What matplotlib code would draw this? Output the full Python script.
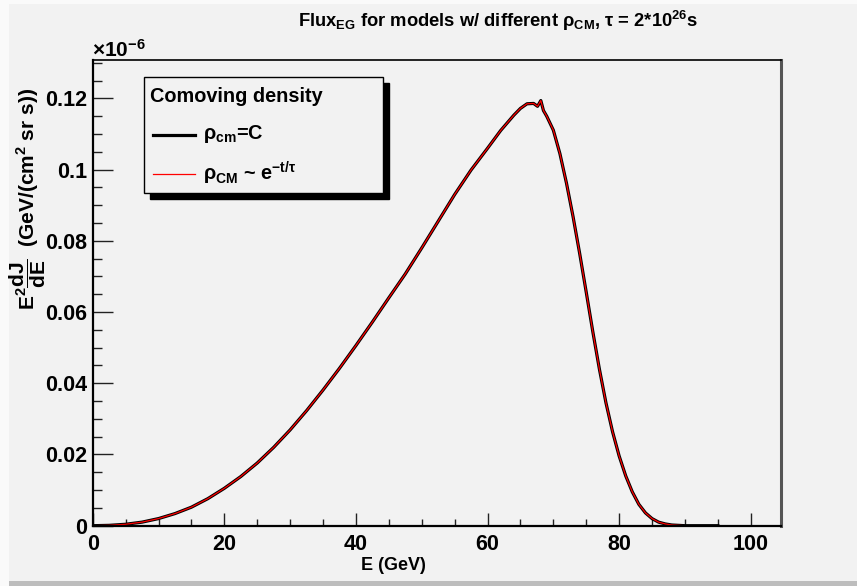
import matplotlib
matplotlib.use("Agg")
import matplotlib.pyplot as plt
from matplotlib.patches import Rectangle
from matplotlib.lines import Line2D
from matplotlib.ticker import MultipleLocator, FixedLocator

# Fontes no estilo ROOT (Helvetica bold)
plt.rcParams['font.family'] = ['Liberation Sans', 'DejaVu Sans']
plt.rcParams['font.weight'] = 'bold'
plt.rcParams['mathtext.fontset'] = 'custom'
plt.rcParams['mathtext.rm'] = 'Liberation Sans:bold'
plt.rcParams['mathtext.bf'] = 'Liberation Sans:bold'
plt.rcParams['mathtext.it'] = 'Liberation Sans:bold'
plt.rcParams['mathtext.default'] = 'rm'

# Dados (E em GeV, fluxo em unidades de 1e-6)
energy = [0, 2.5, 5, 7.5, 10, 12.5, 15, 17.5, 20, 22.5, 25, 27.5, 30, 32.5,
          35, 37.5, 40, 42.5, 45, 47.5, 50, 52.5, 55, 57.5, 60, 62, 64, 65,
          66, 67, 67.6, 68.1, 68.5, 69, 70, 71, 72, 73, 74, 75, 76, 77, 78,
          79, 80, 81, 82, 83, 84, 85, 86, 87, 88, 89, 90, 92.5, 95]
flux_const = [0.0, 0.0001, 0.0004, 0.0010, 0.0020, 0.0034, 0.0052, 0.0076,
              0.0105, 0.0138, 0.0176, 0.0220, 0.0269, 0.0323, 0.0381, 0.0442,
              0.0506, 0.0572, 0.0640, 0.0707, 0.0780, 0.0855, 0.0930, 0.0999,
              0.1060, 0.1110, 0.1153, 0.1172, 0.1185, 0.1186, 0.1178, 0.1194,
              0.1166, 0.1150, 0.1111, 0.1045, 0.0962, 0.0868, 0.0765, 0.0656,
              0.0545, 0.0440, 0.0345, 0.0264, 0.0196, 0.0140, 0.0095, 0.0060,
              0.0036, 0.0020, 0.0010, 0.0005, 0.0002, 0.0001, 0.0, 0.0, 0.0]
flux_exp = [0.0, 0.0001, 0.0004, 0.0010, 0.0020, 0.0034, 0.0052, 0.0076,
            0.0105, 0.0138, 0.0176, 0.0220, 0.0269, 0.0323, 0.0381, 0.0442,
            0.0506, 0.0572, 0.0640, 0.0707, 0.0780, 0.0855, 0.0930, 0.0999,
            0.1060, 0.1110, 0.1153, 0.1172, 0.1185, 0.1186, 0.1178, 0.1194,
            0.1166, 0.1150, 0.1111, 0.1045, 0.0962, 0.0868, 0.0765, 0.0656,
            0.0545, 0.0440, 0.0345, 0.0264, 0.0196, 0.0140, 0.0095, 0.0060,
            0.0036, 0.0020, 0.0010, 0.0005, 0.0002, 0.0001, 0.0, 0.0, 0.0]
yticks = [0, 0.02, 0.04, 0.06, 0.08, 0.1, 0.12]
ytick_labels = ["0", "0.02", "0.04", "0.06", "0.08", "0.1", "0.12"]
xticks = [0, 20, 40, 60, 80, 100]

bg = '#f2f2f2'
W, H = 857, 586
fig = plt.figure(figsize=(W / 100, H / 100), dpi=100, facecolor=bg)

# Bordas do canvas (efeito de relevo)
fig.patches.append(Rectangle((0, 0), 1, 5 / H, transform=fig.transFigure,
                             facecolor='#bdbdbd', edgecolor='none'))
fig.patches.append(Rectangle((0, 0), 9 / W, 1, transform=fig.transFigure,
                             facecolor='#fafafa', edgecolor='none'))
fig.patches.append(Rectangle((0, 1 - 4 / H), 1, 4 / H, transform=fig.transFigure,
                             facecolor='#fafafa', edgecolor='none'))

# Eixos principais
left, right, top, bottom = 92.7, 781, 60, 525.7
ax = fig.add_axes([left / W, (H - bottom) / H, (right - left) / W, (bottom - top) / H])
ax.set_facecolor(bg)

ax.plot(energy, flux_const, color='black', linewidth=2.3)
ax.plot(energy, flux_exp, color='red', linewidth=0.9)

ax.set_xlim(0, 104.6)
ax.set_ylim(0, 0.1308)

ax.xaxis.set_major_locator(FixedLocator(xticks))
ax.xaxis.set_minor_locator(MultipleLocator(5))
ax.yaxis.set_major_locator(FixedLocator(yticks))
ax.yaxis.set_minor_locator(MultipleLocator(0.005))
ax.set_yticklabels(ytick_labels)

ax.tick_params(axis='both', which='both', direction='in', labelsize=15.5,
               width=1.0, color='#222222')
ax.tick_params(axis='x', which='major', length=9.5, pad=6)
ax.tick_params(axis='x', which='minor', length=4.7)
ax.tick_params(axis='y', which='major', length=14.4, pad=4)
ax.tick_params(axis='y', which='minor', length=6.7)

for s in ['left', 'bottom']:
    ax.spines[s].set_linewidth(1.6)
    ax.spines[s].set_color('black')
ax.spines['top'].set_linewidth(1.2)
ax.spines['right'].set_linewidth(2.2)
ax.spines['right'].set_color('#555555')

# Títulos
fig.text(498 / W, 1 - 21 / H,
         r"Flux$_{\mathrm{EG}}$ for models w/ different $\rho_{\mathrm{CM}}$, $\tau$ = 2*10$^{\mathrm{26}}$s",
         ha='center', va='center', fontsize=13.2, fontweight='bold')
fig.text(393 / W, 1 - 566 / H, "E (GeV)", ha='center', va='center',
         fontsize=13, fontweight='bold')
fig.text(28 / W, 1 - 88 / H,
         r"$\mathrm{E^{2}\dfrac{dJ}{dE}}$  (GeV/(cm$^{2}$ sr s))",
         rotation=90, ha='center', va='top', fontsize=15, fontweight='bold')
fig.text(92 / W, 1 - 50 / H, r"$\times$10$^{\mathrm{-6}}$", ha='left',
         va='center', fontsize=15, fontweight='bold')

# Legenda desenhada à mão (estilo TLegend do ROOT)
lx0, ly0, lx1, ly1 = 144, 77, 383, 193
fig.patches.append(Rectangle((lx0 / W + 6 / W, 1 - (ly1 + 6) / H), (lx1 - lx0) / W,
                             (ly1 - ly0) / H, transform=fig.transFigure,
                             facecolor='black', edgecolor='black', zorder=5))
fig.patches.append(Rectangle((lx0 / W, 1 - ly1 / H), (lx1 - lx0) / W,
                             (ly1 - ly0) / H, transform=fig.transFigure,
                             facecolor=bg, edgecolor='black', linewidth=1.0, zorder=6))
fig.text(150 / W, 1 - 96 / H, "Comoving density", ha='left', va='center',
         fontsize=14.3, fontweight='bold', zorder=7)
fig.lines.append(Line2D([153 / W, 195 / W], [1 - 135 / H, 1 - 135 / H],
                        transform=fig.transFigure, color='black', linewidth=2.3, zorder=7))
fig.text(203 / W, 1 - 134 / H, r"$\rho_{\mathrm{cm}}$=C", ha='left', va='center',
         fontsize=14.3, fontweight='bold', zorder=7)
fig.lines.append(Line2D([153 / W, 195 / W], [1 - 174 / H, 1 - 174 / H],
                        transform=fig.transFigure, color='red', linewidth=0.9, zorder=7))
fig.text(203 / W, 1 - 173 / H, r"$\rho_{\mathrm{CM}}$ ~ e$^{\mathrm{-t/\tau}}$",
         ha='left', va='center', fontsize=14.3, fontweight='bold', zorder=7)

fig.savefig("out.png", dpi=100, facecolor=bg)
